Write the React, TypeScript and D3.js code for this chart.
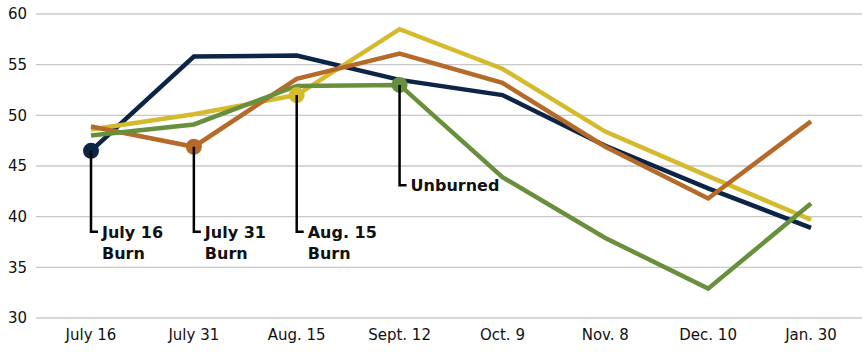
import React from "react";
import * as d3 from "d3";

const categories = ["July 16", "July 31", "Aug. 15", "Sept. 12", "Oct. 9", "Nov. 8", "Dec. 10", "Jan. 30"];
const yTicks = [30, 35, 40, 45, 50, 55, 60];

const july16Burn = [46.5, 55.8, 55.9, 53.5, 52.0, 47.0, 42.8, 38.9];
const july31Burn = [48.9, 46.9, 53.6, 56.1, 53.2, 46.9, 41.8, 49.4];
const aug15Burn = [48.6, 50.1, 52.0, 58.5, 54.6, 48.4, 44.0, 39.7];
const unburned = [48.0, 49.1, 52.9, 53.0, 43.9, 37.9, 32.9, 41.3];

const seriesNames = ["July 16 Burn", "July 31 Burn", "Aug. 15 Burn", "Unburned"];
const seriesColors = ["#0c2446", "#b56a29", "#d5ba2d", "#688f3c"];
const markerIdx = [0, 1, 2, 3];
const calloutLines = [["July 16", "Burn"], ["July 31", "Burn"], ["Aug. 15", "Burn"], ["Unburned"]];
const calloutEndValue = [38.5, 38.5, 38.5, 43.1];

const W = 864, H = 358;

export default function App() {
  const x = d3.scalePoint<string>().domain(categories).range([91, 811]);
  const y = d3.scaleLinear().domain([30, 60]).range([318, 14]);
  const allSeries = [july16Burn, july31Burn, aug15Burn, unburned];
  const line = d3.line<number>().x((_, i) => x(categories[i])!).y(d => y(d));
  const drawOrder = [0, 2, 1, 3];
  const font = "'DejaVu Sans', sans-serif";
  return (
    <svg width={W} height={H} style={{ position: "absolute", left: 0, top: 0 }} fontFamily={font}>
      {yTicks.map(t => (
        <g key={t}>
          <line x1={36} x2={862} y1={y(t)} y2={y(t)} stroke="#c8c8c8" strokeWidth={1.4} />
          <text x={27} y={y(t)} dy="0.36em" textAnchor="end" fontSize={15} fill="#111">{t}</text>
        </g>
      ))}
      {categories.map(c => (
        <text key={c} x={x(c)} y={340} textAnchor="middle" fontSize={15} fill="#111">{c}</text>
      ))}
      {drawOrder.map(i => (
        <path key={i} d={line(allSeries[i])!} fill="none" stroke={seriesColors[i]} strokeWidth={4.5} strokeLinejoin="miter" />
      ))}
      {allSeries.map((s, i) => {
        const idx = markerIdx[i];
        const cx = x(categories[idx])!;
        const cy = y(s[idx]);
        const yEnd = y(calloutEndValue[i]);
        return (
          <g key={"m" + i}>
            <circle cx={cx} cy={cy} r={8} fill={seriesColors[i]} />
            <path d={`M${cx},${cy}V${yEnd}H${cx + 7}`} fill="none" stroke="#000" strokeWidth={2.5} />
            {calloutLines[i].map((t, k) => (
              <text key={k} x={cx + 11} y={yEnd + 6 + k * 21.5} fontSize={16} fontWeight="bold" fill="#111">{t}</text>
            ))}
          </g>
        );
      })}
    </svg>
  );
}
